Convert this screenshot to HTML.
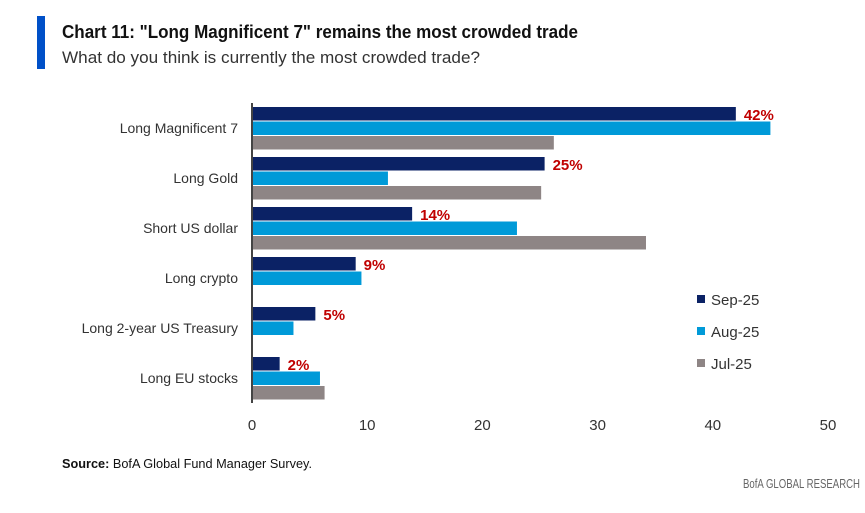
<!DOCTYPE html>
<html><head><meta charset="utf-8"><style>
body{margin:0;background:#fff;}
svg{display:block;font-family:"Liberation Sans",sans-serif;}
</style></head><body>
<svg id="c" width="865" height="513">
<rect x="37" y="16" width="8" height="53" fill="#0050c8"/>
<text x="62" y="38" font-size="18" font-weight="bold" fill="#111" textLength="516" lengthAdjust="spacingAndGlyphs">Chart 11: "Long Magnificent 7" remains the most crowded trade</text>
<text x="62" y="63" font-size="17" fill="#333" textLength="418" lengthAdjust="spacingAndGlyphs">What do you think is currently the most crowded trade?</text>
<g id="bars"></g>
<line x1="252" y1="103" x2="252" y2="403" stroke="#444" stroke-width="2"/>
<g id="legend"></g>
<text x="62" y="468" font-size="13" fill="#111" textLength="250" lengthAdjust="spacingAndGlyphs"><tspan font-weight="bold">Source:</tspan> BofA Global Fund Manager Survey.</text>
<text x="860" y="488" font-size="13" fill="#666" text-anchor="end" textLength="117" lengthAdjust="spacingAndGlyphs">BofA GLOBAL RESEARCH</text>
</svg>
<script>
const categories=["Long Magnificent 7","Long Gold","Short US dollar","Long crypto","Long 2-year US Treasury","Long EU stocks"];
const sep25=[42,25.4,13.9,9,5.5,2.4];
const aug25=[45,11.8,23,9.5,3.6,5.9];
const jul25=[26.2,25.1,34.2,null,null,6.3];
const sepLabels=["42%","25%","14%","9%","5%","2%"];
const seriesNames=["Sep-25","Aug-25","Jul-25"];
const ticks=[0,10,20,30,40,50];
const NS="http://www.w3.org/2000/svg";
const x=v=>252+v*11.52;
const groupY=i=>107+i*50;
const colors=["#0b2265","#009ad8","#8e8585"];
const g=document.getElementById('bars');
function mk(tag,attrs,parent){const e=document.createElementNS(NS,tag);for(const k in attrs)e.setAttribute(k,attrs[k]);parent.appendChild(e);return e;}
ticks.forEach(t=>{
 const e=mk('text',{x:x(t),y:430,'font-size':15,fill:'#333','text-anchor':'middle'},g);
 e.textContent=t;
 
 
});
[sep25,aug25,jul25].forEach((s,si)=>{
 s.forEach((v,i)=>{
  if(v==null)return;
  const r=mk('rect',{x:252,y:groupY(i)+si*14.5,width:x(v)-252,height:13.5,fill:colors[si]},g);
  
  
 });
});
categories.forEach((c,i)=>{
 const e=mk('text',{x:238,y:groupY(i)+26,'font-size':14,fill:'#333','text-anchor':'end'},g);
 e.textContent=c;
 
 
 const l=mk('text',{x:x(sep25[i])+8,y:groupY(i)+13,'font-size':15,'font-weight':'bold',fill:'#c00000'},g);
 l.textContent=sepLabels[i];
 
 
});
const lg=document.getElementById('legend');
seriesNames.forEach((n,i)=>{
 const yy=[300,332,364][i];
 const s=mk('rect',{x:697,y:yy-5,width:8,height:8,fill:colors[i]},lg);
 
 
 const t=mk('text',{x:711,y:yy+5,'font-size':15,fill:'#333'},lg);
 t.textContent=n;
 
 
});
</script>
</body></html>
